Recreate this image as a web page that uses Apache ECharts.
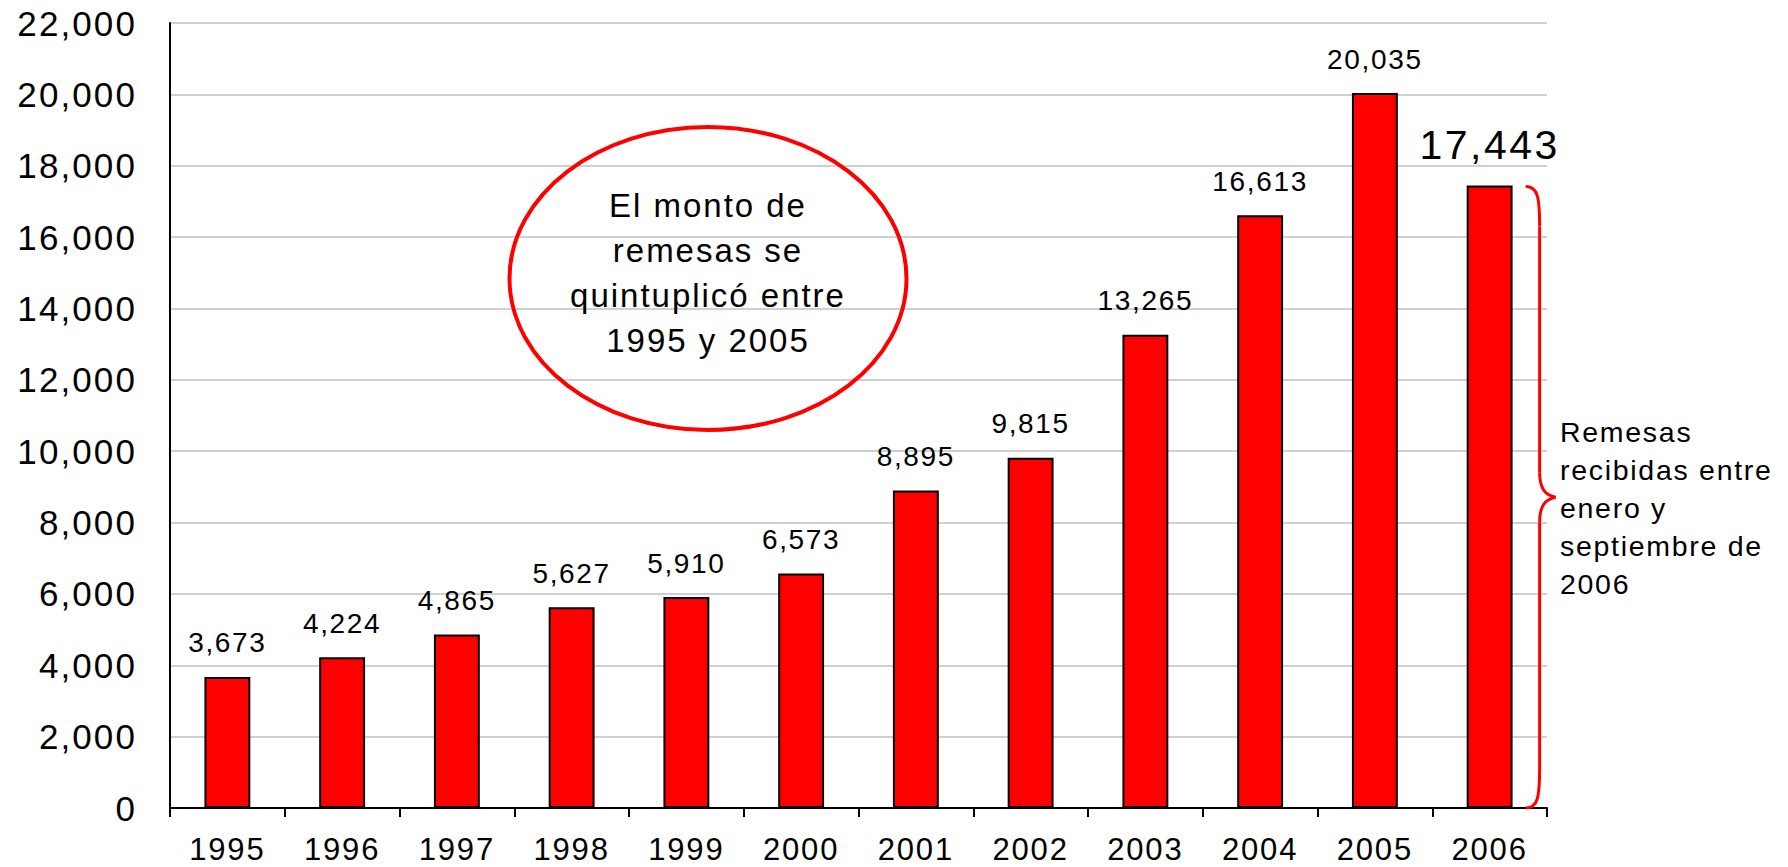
<!DOCTYPE html>
<html>
<head>
<meta charset="utf-8" />
<title>Remesas</title>
<script src="https://cdn.jsdelivr.net/npm/echarts@6/dist/echarts.min.js"></script>
<style>
	html, body { margin: 0; padding: 0; background: #fff; }
	#main { width: 1788px; height: 867px; }
	#main text { letter-spacing: 0.06em; }
</style>
</head>
<body>
<div id="main"></div>
<script>
// datos
var years = ['1995','1996','1997','1998','1999','2000','2001','2002','2003','2004','2005','2006'];
var remesas = [3673, 4224, 4865, 5627, 5910, 6573, 8895, 9815, 13265, 16613, 20035, 17443];
var yTicks = [0, 22000, 2000];   // min, max, intervalo

var nota = 'El monto de\nremesas se\nquintuplicó entre\n1995 y 2005';
var notaDer = 'Remesas\nrecibidas entre\nenero y\nseptiembre de\n2006';

var fuente = '"Liberation Sans", Arial, sans-serif';
var chart = echarts.init(document.getElementById('main'), null, {renderer: 'svg'});

var barData = remesas.map(function (v, i) {
	if (i == remesas.length - 1) {
		// el ultimo valor lleva etiqueta grande
		return {value: v, label: {fontSize: 41}};
	}
	return v;
});

var option = {
	animation: false,
	grid: {left: 170, right: 241, top: 23, bottom: 59},
	xAxis: {
		type: 'category',
		data: years,
		axisLine: {lineStyle: {color: '#000', width: 2}},
		axisTick: {show: true, length: 9, lineStyle: {color: '#000', width: 2}},
		axisLabel: {color: '#000', fontSize: 31, fontFamily: fuente, margin: 26}
	},
	yAxis: {
		type: 'value',
		min: yTicks[0],
		max: yTicks[1],
		interval: yTicks[2],
		axisLine: {show: true, lineStyle: {color: '#000', width: 2}},
		axisTick: {show: false},
		splitLine: {lineStyle: {color: '#c0c0c0', width: 1.5}},
		axisLabel: {
			color: '#000', fontSize: 35, fontFamily: fuente, margin: 33,
			formatter: function (v) { return echarts.format.addCommas(v); }
		}
	},
	series: [{
		type: 'bar',
		data: barData,
		barWidth: '40%',
		itemStyle: {color: '#ff0000', borderColor: '#000', borderWidth: 2},
		label: {
			show: true,
			position: 'top',
			distance: 20,
			color: '#000',
			fontSize: 28,
			fontFamily: fuente,
			formatter: function (p) { return echarts.format.addCommas(p.value); }
		}
	}],
	graphic: [
		{
			type: 'ellipse', z: 10,
			shape: {cx: 708, cy: 278.5, rx: 198.5, ry: 151.5},
			style: {fill: 'none', stroke: '#ff0000', lineWidth: 4}
		},
		{
			type: 'text', z: 10, x: 708, y: 273,
			style: {
				text: nota, fill: '#000', fontSize: 33, lineHeight: 45,
				fontFamily: fuente, align: 'center', verticalAlign: 'middle'
			}
		},
		{
			type: 'text', z: 10, x: 1560, y: 508,
			style: {
				text: notaDer, fill: '#000', fontSize: 28.5, lineHeight: 38,
				fontFamily: fuente, align: 'left', verticalAlign: 'middle'
			}
		}
	]
};
chart.setOption(option);

// llave roja al lado de la barra de 2006, sacada de la escala
var last = remesas.length - 1;
var pTop = chart.convertToPixel({gridIndex: 0}, [last, remesas[last]]);
var pBase = chart.convertToPixel({gridIndex: 0}, [last, 0]);
var ex = pTop[0] + 36, sx = pTop[0] + 50, tx = pTop[0] + 66;
var yt = pTop[1] + 1, yb = pBase[1], ym = (yt + yb) / 2;
var llave = {fill: 'none', stroke: '#ff0000', lineWidth: 3};

function curva(x1, y1, c1x, c1y, c2x, c2y, x2, y2) {
	return {
		type: 'bezierCurve', z: 10,
		shape: {x1: x1, y1: y1, cpx1: c1x, cpy1: c1y, cpx2: c2x, cpy2: c2y, x2: x2, y2: y2},
		style: llave
	};
}
function recta(x1, y1, x2, y2) {
	return {type: 'line', z: 10, shape: {x1: x1, y1: y1, x2: x2, y2: y2}, style: llave};
}

option.graphic.push(
	curva(ex, yt, sx - 2, yt, sx, yt + 10, sx, yt + 40),
	recta(sx, yt + 40, sx, ym - 25),
	curva(sx, ym - 25, sx, ym - 8, sx + 6, ym - 2, tx, ym),
	curva(tx, ym, sx + 6, ym + 2, sx, ym + 8, sx, ym + 25),
	recta(sx, ym + 25, sx, yb - 40),
	curva(sx, yb - 40, sx, yb - 10, sx - 2, yb, ex, yb)
);
chart.setOption({graphic: option.graphic});
</script>
</body>
</html>
